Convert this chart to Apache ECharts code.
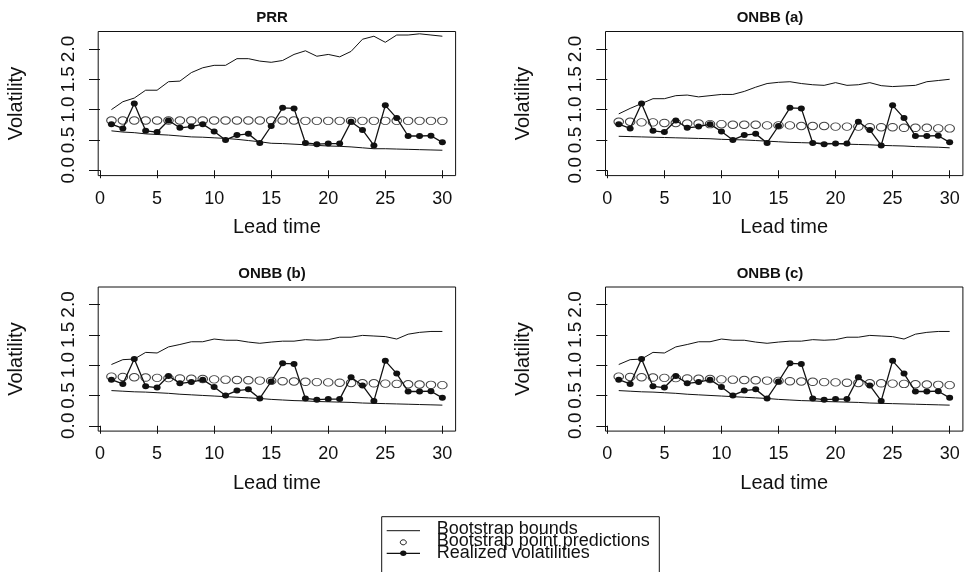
<!DOCTYPE html>
<html>
<head>
<meta charset="utf-8">
<script src="https://cdn.jsdelivr.net/npm/echarts@6/dist/echarts.min.js"></script>
<style>
  html, body { margin: 0; padding: 0; background: #fff; }
  #chart { width: 970px; height: 572px; }
</style>
</head>
<body>
<div id="chart"></div>
<script>
// Lead times (days ahead)
const leadTimes = [1,2,3,4,5,6,7,8,9,10,11,12,13,14,15,16,17,18,19,20,21,22,23,24,25,26,27,28,29,30];

// Realized volatilities (shared by all panels)
const realized = [0.76,0.69,1.10,0.65,0.63,0.82,0.70,0.72,0.76,0.64,0.50,0.58,0.60,0.45,0.73,1.03,1.02,0.45,0.43,0.44,0.44,0.80,0.665,0.41,1.07,0.86,0.565,0.565,0.57,0.46];

// PRR
const prrUpper = [1.00,1.13,1.19,1.32,1.32,1.46,1.47,1.61,1.69,1.73,1.73,1.84,1.84,1.80,1.78,1.81,1.91,1.97,1.88,1.91,1.87,1.96,2.16,2.21,2.11,2.23,2.23,2.25,2.23,2.21];
const prrLower = [0.65,0.63,0.62,0.60,0.59,0.58,0.565,0.55,0.545,0.535,0.525,0.51,0.49,0.47,0.445,0.44,0.43,0.42,0.41,0.40,0.395,0.385,0.37,0.355,0.355,0.35,0.345,0.34,0.335,0.33];
const prrPoint = [0.82,0.82,0.82,0.82,0.82,0.82,0.82,0.82,0.82,0.82,0.82,0.82,0.82,0.82,0.82,0.82,0.82,0.815,0.815,0.815,0.815,0.815,0.815,0.815,0.815,0.815,0.815,0.815,0.815,0.815];

// ONBB (a)
const onbbAUpper = [0.93,1.02,1.10,1.18,1.18,1.23,1.24,1.21,1.23,1.25,1.25,1.30,1.37,1.43,1.45,1.46,1.43,1.41,1.40,1.445,1.40,1.41,1.445,1.395,1.38,1.39,1.40,1.46,1.48,1.50];
const onbbALower = [0.56,0.555,0.55,0.545,0.54,0.535,0.53,0.525,0.52,0.51,0.505,0.50,0.49,0.48,0.47,0.46,0.455,0.45,0.445,0.44,0.43,0.425,0.42,0.41,0.405,0.40,0.39,0.385,0.38,0.37];
const onbbAPoint = [0.80,0.80,0.79,0.79,0.78,0.78,0.77,0.77,0.76,0.76,0.75,0.75,0.75,0.74,0.74,0.74,0.73,0.73,0.73,0.72,0.72,0.72,0.71,0.71,0.71,0.70,0.70,0.70,0.69,0.69];

// ONBB (b)
const onbbBUpper = [1.01,1.09,1.10,1.21,1.20,1.30,1.34,1.385,1.385,1.43,1.41,1.41,1.38,1.36,1.38,1.395,1.395,1.42,1.41,1.42,1.46,1.46,1.49,1.48,1.47,1.43,1.51,1.54,1.555,1.555];
const onbbBLower = [0.58,0.57,0.56,0.555,0.545,0.535,0.52,0.51,0.50,0.49,0.48,0.47,0.46,0.45,0.435,0.425,0.415,0.41,0.40,0.395,0.39,0.385,0.375,0.37,0.365,0.36,0.355,0.35,0.345,0.34];
const onbbBPoint = [0.81,0.805,0.80,0.795,0.79,0.785,0.78,0.775,0.77,0.765,0.76,0.755,0.75,0.745,0.74,0.735,0.73,0.725,0.72,0.715,0.71,0.705,0.70,0.70,0.695,0.69,0.685,0.68,0.675,0.67];

// ONBB (c)
const onbbCUpper = [1.01,1.09,1.10,1.21,1.20,1.30,1.34,1.385,1.385,1.43,1.41,1.41,1.38,1.36,1.38,1.395,1.395,1.42,1.41,1.42,1.46,1.46,1.49,1.48,1.47,1.43,1.51,1.54,1.555,1.555];
const onbbCLower = [0.58,0.57,0.56,0.555,0.545,0.535,0.52,0.51,0.50,0.49,0.48,0.47,0.46,0.45,0.435,0.425,0.415,0.41,0.40,0.395,0.39,0.385,0.375,0.37,0.365,0.36,0.355,0.35,0.345,0.34];
const onbbCPoint = [0.81,0.805,0.80,0.795,0.79,0.785,0.78,0.775,0.77,0.765,0.76,0.755,0.75,0.745,0.74,0.735,0.73,0.725,0.72,0.715,0.71,0.705,0.70,0.70,0.695,0.69,0.685,0.68,0.675,0.67];

// Axis ticks
const xTicks = [0, 5, 10, 15, 20, 25, 30];
const yTicks = [0, 0.5, 1.0, 1.5, 2.0];

const panels = [
  { title: 'PRR',      upper: prrUpper,   lower: prrLower,   point: prrPoint },
  { title: 'ONBB (a)', upper: onbbAUpper, lower: onbbALower, point: onbbAPoint },
  { title: 'ONBB (b)', upper: onbbBUpper, lower: onbbBLower, point: onbbBPoint },
  { title: 'ONBB (c)', upper: onbbCUpper, lower: onbbCLower, point: onbbCPoint }
];

const FONT = '"Liberation Sans", Arial, Helvetica, sans-serif';
const INK = '#111';

// Panel layout (plot regions)
const gridPos = [
  { left: 98.2,  top: 31.5 },
  { left: 605.5, top: 31.5 },
  { left: 98.2,  top: 287 },
  { left: 605.5, top: 287 }
];
const GW = 357.4, GH = 144.1;
const titleCenters = [267, 765, 267, 765];

const pairs = vals => leadTimes.map((t, i) => [t, vals[i]]);

const option = {
  animation: false,
  backgroundColor: '#fff',
  title: panels.map((p, i) => ({
    text: p.title,
    left: titleCenters[i],
    top: gridPos[i].top - 26,
    textAlign: 'center',
    textStyle: { fontFamily: FONT, fontWeight: 'bold', fontSize: 15, color: INK }
  })),
  grid: gridPos.map(g => ({
    left: g.left, top: g.top, width: GW, height: GH,
    show: true, borderColor: INK, borderWidth: 1, backgroundColor: 'transparent'
  })),
  xAxis: panels.map((p, i) => ({
    type: 'value', gridIndex: i, min: -0.16, max: 31.16,
    name: 'Lead time', nameLocation: 'middle', nameGap: 42,
    nameTextStyle: { fontFamily: FONT, fontSize: 20, color: INK },
    axisLine: { show: false },
    axisTick: { show: true, customValues: xTicks, length: 8, lineStyle: { color: INK } },
    axisLabel: { show: true, customValues: xTicks, margin: 14, fontFamily: FONT, fontSize: 18, color: INK },
    splitLine: { show: false }
  })),
  yAxis: panels.map((p, i) => ({
    type: 'value', gridIndex: i, min: -0.088, max: 2.288,
    name: 'Volatility', nameLocation: 'middle', nameGap: 72,
    nameTextStyle: { fontFamily: FONT, fontSize: 20, color: INK },
    axisLine: { show: false },
    axisTick: { show: true, customValues: yTicks, length: 11, lineStyle: { color: INK } },
    axisLabel: {
      show: true, customValues: yTicks, rotate: 90, margin: 20,
      fontFamily: FONT, fontSize: 19, color: INK,
      formatter: v => v.toFixed(1)
    },
    splitLine: { show: false }
  })),
  series: []
};

panels.forEach((p, i) => {
  option.series.push(
    {
      type: 'line', xAxisIndex: i, yAxisIndex: i, data: pairs(p.upper),
      showSymbol: false, symbol: 'none', lineStyle: { color: INK, width: 1 }, z: 2
    },
    {
      type: 'line', xAxisIndex: i, yAxisIndex: i, data: pairs(p.lower),
      showSymbol: false, symbol: 'none', lineStyle: { color: INK, width: 1 }, z: 2
    },
    {
      type: 'scatter', xAxisIndex: i, yAxisIndex: i, data: pairs(p.point),
      symbol: 'circle', symbolSize: [9.5, 7.5],
      itemStyle: { color: 'rgba(0,0,0,0)', borderColor: INK, borderWidth: 1 }, z: 3
    },
    {
      type: 'line', xAxisIndex: i, yAxisIndex: i, data: pairs(realized),
      symbol: 'circle', symbolSize: [7, 6], showSymbol: true,
      itemStyle: { color: INK, borderWidth: 0 },
      lineStyle: { color: INK, width: 1.3 }, z: 4
    }
  );
});

// Legend box below the panels
const lgX = 381.7, lgY = 516.7, lgW = 277.6;
const lgTextX = 436.7;
const lgFont = '18px ' + FONT;
option.graphic = [
  { type: 'rect', shape: { x: lgX, y: lgY, width: lgW, height: 80 },
    style: { fill: '#fff', stroke: INK, lineWidth: 1 } },
  { type: 'line', shape: { x1: 386.7, y1: 530.7, x2: 420, y2: 530.7 }, style: { stroke: INK, lineWidth: 1 } },
  { type: 'ellipse', shape: { cx: 403.3, cy: 542.3, rx: 3, ry: 2.5 }, style: { fill: 'none', stroke: INK, lineWidth: 1 } },
  { type: 'line', shape: { x1: 386.7, y1: 553.3, x2: 420, y2: 553.3 }, style: { stroke: INK, lineWidth: 1.3 } },
  { type: 'ellipse', shape: { cx: 403.3, cy: 553.3, rx: 3.3, ry: 2.8 }, style: { fill: INK } },
  { type: 'text', x: lgTextX, y: 520.5, style: { text: 'Bootstrap bounds', fill: INK, font: lgFont } },
  { type: 'text', x: lgTextX, y: 532.2, style: { text: 'Bootstrap point predictions', fill: INK, font: lgFont } },
  { type: 'text', x: lgTextX, y: 543.8, style: { text: 'Realized volatilities', fill: INK, font: lgFont } }
];

const chart = echarts.init(document.getElementById('chart'), null, { renderer: 'canvas' });
chart.setOption(option);
</script>
</body>
</html>
